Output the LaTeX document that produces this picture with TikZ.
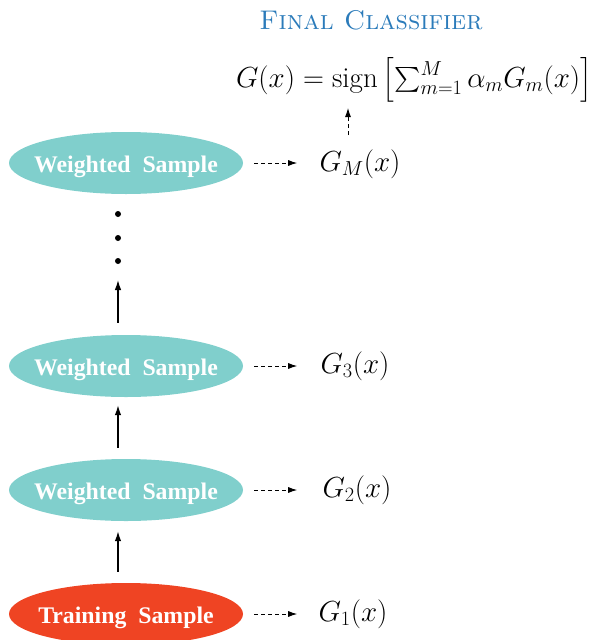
\RequirePackage{fix-cm}
\documentclass[tikz,border=0pt]{standalone}
\usepackage{amsmath}
\usepackage{fontspec}
\newfontfamily\tfont{Liberation Serif}
\usetikzlibrary{shapes.geometric,arrows.meta}
\definecolor{tealfill}{HTML}{80CFCC}
\definecolor{redfill}{HTML}{EF4423}
\definecolor{titleblue}{HTML}{2B7BBA}
\newcommand{\sampletext}[1]{\makebox[0pt]{#1}}
\begin{document}
\begin{tikzpicture}[x=1pt,y=1pt,
  samp/.style={ellipse, fill=tealfill, minimum width=234pt, minimum height=62pt, inner sep=0pt,
    text height=19pt, text depth=0pt,
    text=white, font=\tfont\bfseries\fontsize{23.8}{26}\selectfont},
  train/.style={samp, fill=redfill},
  lab/.style={inner sep=0pt, font=\fontsize{29}{34}\selectfont},
  darr/.style={dash pattern=on 4pt off 3pt, line width=0.9pt, -{Latex[length=9pt,width=6pt]}},
  sarr/.style={line width=1.3pt, -{Latex[length=10pt,width=6.5pt]}},
  dot/.style={circle, fill=black, inner sep=0pt, minimum size=6pt},
]
\useasboundingbox (0,0) rectangle (595,-640);
\coordinate (ax) at (118,0);
\node[font=\fontsize{27}{32}\selectfont, text=titleblue] (title) at (371,-20) {\textsc{Final Classifier}};
\node[lab] (G) at (414,-80) {$G(x)=\operatorname{sign}\left[\sum_{m=1}^{M}\alpha_m G_m(x)\right]$};
\node[samp] (wM) at (126,-163) {\sampletext{Weighted\ \ Sample}};
\node[samp] (w3) at (126,-366) {\sampletext{Weighted\ \ Sample}};
\node[samp] (w2) at (126,-490) {\sampletext{Weighted\ \ Sample}};
\node[train] (tr) at (126,-614) {\sampletext{Training\ \ Sample}};
\node[lab] (gM) at (360,-164) {$G_M(x)$};
\node[lab] (g3) at (355,-366) {$G_3(x)$};
\node[lab] (g2) at (357,-490) {$G_2(x)$};
\node[lab] (g1) at (353,-614) {$G_1(x)$};
\node[dot] (d1) at (118,-214) {};
\node[dot] (d2) at (118,-238) {};
\node[dot] (d3) at (118,-261) {};
\coordinate (top) at (118,-280);
% dashed arrows
\draw[darr] ([xshift=11pt]wM.east) -- ([xshift=54pt]wM.east);
\draw[darr] ([xshift=11pt]w3.east) -- ([xshift=54pt]w3.east);
\draw[darr] ([xshift=11pt]w2.east) -- ([xshift=54pt]w2.east);
\draw[darr] ([xshift=11pt]tr.east) -- ([xshift=54pt]tr.east);
\coordinate (vb) at (348,-135);
\coordinate (vt) at (348,-108);
\draw[darr] (vb) -- (vt);
% solid arrows
\draw[sarr] ([yshift=11pt]tr.north -| ax) -- ([yshift=-10pt]w2.south -| ax);
\draw[sarr] ([yshift=11pt]w2.north -| ax) -- ([yshift=-8pt]w3.south -| ax);
\draw[sarr] ([yshift=12pt]w3.north -| ax) -- (top);
\end{tikzpicture}
\end{document}
